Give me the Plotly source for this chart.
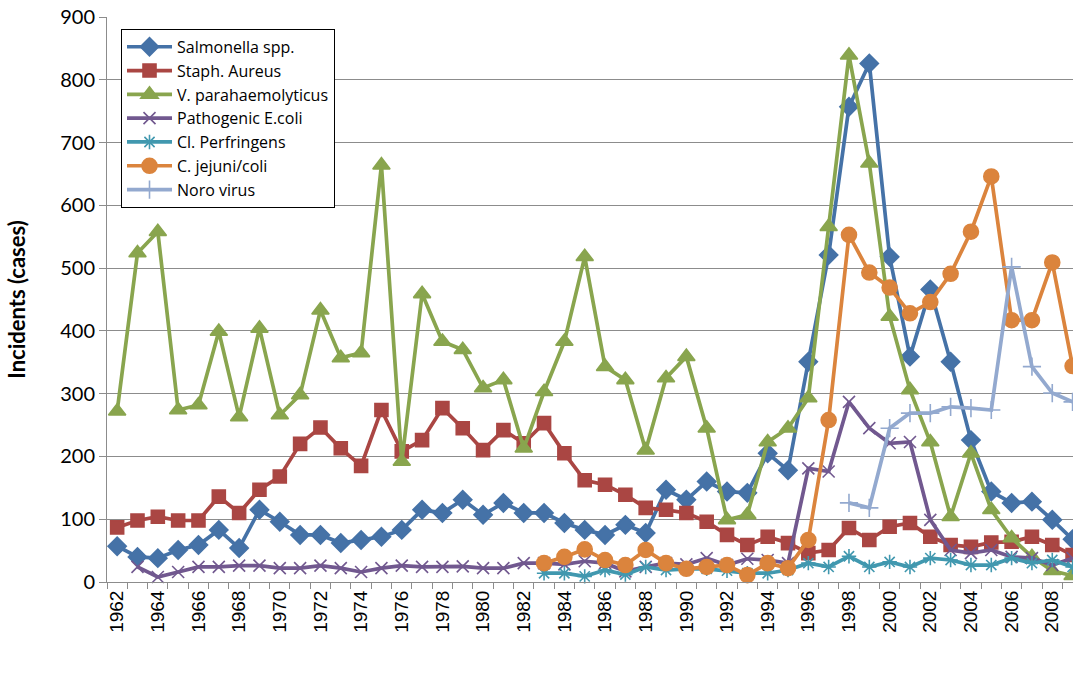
import plotly.graph_objects as go

years = list(range(1962, 2010))

salmonella = [57, 40, 38, 51, 59, 83, 54, 115, 96, 75, 75, 62, 67, 72,
              83, 115, 110, 131, 107, 126, 110, 110, 94, 83, 75, 91, 78, 147,
              131, 160, 144, 142, 205, 178, 351, 521, 757, 826, 518, 359,
              466, 351, 226, 144, 126, 128, 99, 68]

staph = [87, 98, 104, 98, 98, 136, 110, 147, 168, 220, 246, 213, 185, 274,
         208, 226, 277, 245, 210, 242, 221, 253, 205, 162, 155, 139, 118, 115,
         110, 96, 75, 59, 72, 62, 46, 51, 86, 67, 88, 94,
         72, 59, 56, 63, 64, 72, 59, 43]

vpara = [272, 524, 558, 274, 282, 399, 263, 404, 266, 298, 433, 357, 365, 664,
         192, 459, 383, 370, 309, 322, 213, 303, 383, 518, 343, 322, 210, 325,
         359, 245, 99, 107, 223, 245, 293, 566, 839, 667, 423, 306,
         223, 104, 205, 115, 70, 40, 18, 10]

ecoli = [None, 24, 8, 16, 24, 24, 26, 26, 22, 22, 26, 22, 16, 22,
         26, 24, 24, 25, 22, 22, 30, 30, 28, 33, 30, 17, 24, 30,
         28, 38, 27, 37, 35, 30, 181, 176, 287, 245, 221, 223,
         99, 51, 46, 51, 40, 38, 27, 38]

perfringens = [None] * 21 + [14, 14, 9, 19, 12, 24, 19,
               21, 21, 18, 14, 14, 19, 30, 24, 41, 24, 32, 24,
               38, 35, 27, 27, 38, 30, 35, 24]

jejuni = [None] * 21 + [30, 40, 52, 35, 27, 51, 30,
          21, 24, 27, 11, 30, 22, 67, 258, 553, 493, 469, 428,
          446, 491, 558, 646, 417, 417, 509, 344]

noro = [None] * 36 + [126, 118, 245, 269,
        269, 279, 277, 274, 502, 343, 301, 287]

series = [
    ("Salmonella spp.", salmonella, "#4572A7", "diamond", 14),
    ("Staph. Aureus", staph, "#AA4643", "square", 13),
    ("V. parahaemolyticus", vpara, "#89A54E", "triangle-up", 15),
    ("Pathogenic E.coli", ecoli, "#71588F", "x-thin-open", 12),
    ("Cl. Perfringens", perfringens, "#4198AF", "asterisk-open", 12),
    ("C. jejuni/coli", jejuni, "#DB843D", "circle", 15),
    ("Noro virus", noro, "#93A9CF", "cross-thin-open", 13),
]

fig = go.Figure()
for name, vals, color, sym, size in series:
    fig.add_trace(go.Scatter(
        x=years, y=vals, name=name, mode="lines+markers",
        line=dict(color=color, width=3.7),
        marker=dict(symbol=sym, size=size, color=color,
                    line=dict(color=color, width=1.6)),
        connectgaps=False, cliponaxis=False,
    ))

grid = "#8c8c8c"
fnt = "Lato, sans-serif"
fig.update_layout(
    width=1073, height=674,
    margin=dict(l=107, r=0, t=17, b=92),
    plot_bgcolor="white", paper_bgcolor="white",
    font=dict(family=fnt, color="black"),
    showlegend=True,
    legend=dict(
        x=0.0145, y=0.979, xanchor="left", yanchor="top",
        bordercolor="black", borderwidth=1, bgcolor="white",
        font=dict(size=16, family="Open Sans, sans-serif"),
        itemwidth=45, tracegroupgap=0,
    ),
    xaxis=dict(
        range=[1961.5, 2009.02],
        tickmode="array", tickvals=years[::2],
        ticktext=[str(y) for y in years[::2]],
        tickangle=-90, ticks="",
        tickfont=dict(size=19, family="Liberation Sans, Arial, sans-serif"),
        showgrid=False, zeroline=False,
        showline=True, linecolor=grid, linewidth=1,
        minor=dict(ticks="outside", tick0=1961.5, dtick=1,
                   ticklen=6, tickcolor=grid, tickwidth=1, showgrid=False),
    ),
    yaxis=dict(
        range=[0, 900], dtick=100,
        ticks="outside", ticklen=7, tickcolor=grid,
        tickfont=dict(size=20),
        showgrid=True, gridcolor=grid, gridwidth=1,
        zeroline=False, showline=True, linecolor=grid, linewidth=1,
        title=dict(text="<b>Incidents (cases)</b>", font=dict(size=22), standoff=28),
    ),
)

fig.write_html("out.html", config={"displayModeBar": False},
               post_script="document.body.style.margin='0';document.body.style.overflow='hidden';")
